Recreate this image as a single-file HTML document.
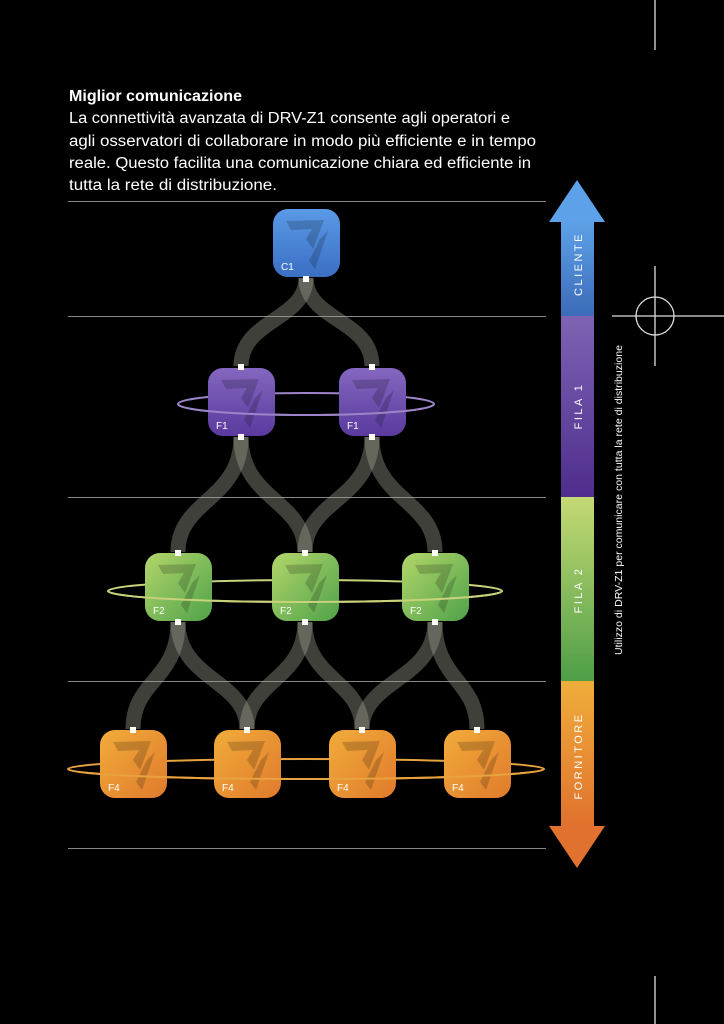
<!DOCTYPE html>
<html><head><meta charset="utf-8"><style>
html,body{margin:0;padding:0;background:#000;}
svg{display:block}
text{font-family:"Liberation Sans",sans-serif;}
</style></head><body>
<svg width="724" height="1024" viewBox="0 0 724 1024" xmlns="http://www.w3.org/2000/svg">
<defs>
<linearGradient id="gB" x1="0" y1="0" x2="0" y2="1"><stop offset="0" stop-color="#5a9ae6"/><stop offset="1" stop-color="#3b6fc4"/></linearGradient>
<linearGradient id="gP" x1="0" y1="0" x2="0" y2="1"><stop offset="0" stop-color="#8467c0"/><stop offset="1" stop-color="#5a3a9e"/></linearGradient>
<linearGradient id="gG" x1="0" y1="0" x2="1" y2="1"><stop offset="0" stop-color="#b3d66a"/><stop offset="1" stop-color="#4fa24a"/></linearGradient>
<linearGradient id="gO" x1="0" y1="0" x2="1" y2="1"><stop offset="0" stop-color="#f1ac3a"/><stop offset="1" stop-color="#e07a2c"/></linearGradient>
<linearGradient id="aB" x1="0" y1="0" x2="0" y2="1"><stop offset="0" stop-color="#5da2e8"/><stop offset="1" stop-color="#3c6ab8"/></linearGradient>
<linearGradient id="aP" x1="0" y1="0" x2="0" y2="1"><stop offset="0" stop-color="#7e63b4"/><stop offset="1" stop-color="#4e2d8c"/></linearGradient>
<linearGradient id="aG" x1="0" y1="0" x2="0" y2="1"><stop offset="0" stop-color="#c5da74"/><stop offset="1" stop-color="#4e9e48"/></linearGradient>
<linearGradient id="aO" x1="0" y1="0" x2="0" y2="1"><stop offset="0" stop-color="#efae3a"/><stop offset="1" stop-color="#e0712e"/></linearGradient>
<g id="logo"><polygon points="13,12 51,11 40,40 33,30 39,20 18,21" fill="rgba(0,0,0,0.18)"/><polygon points="47,30 55,22 42,60 36,52" fill="rgba(0,0,0,0.18)"/></g>
</defs>

<text x="69" y="101" font-size="15.5" font-weight="bold" fill="#fff" textLength="173" lengthAdjust="spacingAndGlyphs">Miglior comunicazione</text>
<g font-size="15.5" fill="#fff">
<text x="69" y="123" textLength="441" lengthAdjust="spacingAndGlyphs">La connettività avanzata di DRV-Z1 consente agli operatori e</text>
<text x="69" y="146" textLength="467" lengthAdjust="spacingAndGlyphs">agli osservatori di collaborare in modo più efficiente e in tempo</text>
<text x="69" y="168" textLength="462" lengthAdjust="spacingAndGlyphs">reale. Questo facilita una comunicazione chiara ed efficiente in</text>
<text x="69" y="190" textLength="208" lengthAdjust="spacingAndGlyphs">tutta la rete di distribuzione.</text>
</g>

<g stroke="#888" stroke-width="1">
<line x1="68" y1="201.5" x2="546" y2="201.5"/>
<line x1="68" y1="316.5" x2="546" y2="316.5"/>
<line x1="68" y1="497.5" x2="546" y2="497.5"/>
<line x1="68" y1="681.5" x2="546" y2="681.5"/>
<line x1="68" y1="848.5" x2="546" y2="848.5"/>
</g>

<g stroke="#ddd" stroke-width="1.3" fill="none">
<line x1="655" y1="0" x2="655" y2="50"/>
<line x1="655" y1="976" x2="655" y2="1024"/>
<line x1="612" y1="316" x2="724" y2="316"/>
<line x1="655" y1="266" x2="655" y2="366"/>
<circle cx="655" cy="316" r="19"/>
</g>

<polygon points="577,180 605,222 549,222" fill="#5da2e8"/>
<rect x="561" y="221" width="33" height="96" fill="url(#aB)"/>
<rect x="561" y="316" width="33" height="181" fill="url(#aP)"/>
<rect x="561" y="497" width="33" height="184" fill="url(#aG)"/>
<rect x="561" y="681" width="33" height="146" fill="url(#aO)"/>
<polygon points="549,826 605,826 577,868" fill="#e0712e"/>
<g font-size="11" fill="#fff" letter-spacing="2.5" text-anchor="middle">
<text transform="translate(582,264) rotate(-90)">CLIENTE</text>
<text transform="translate(582,406) rotate(-90)">FILA 1</text>
<text transform="translate(582,590) rotate(-90)">FILA 2</text>
<text transform="translate(582,756) rotate(-90)">FORNITORE</text>
</g>
<text transform="translate(622,500) rotate(-90)" font-size="10" fill="#fff" text-anchor="middle" textLength="310" lengthAdjust="spacingAndGlyphs">Utilizzo di DRV-Z1 per comunicare con tutta la rete di distribuzione</text>

<g fill="none" stroke-width="2">
<ellipse cx="306" cy="404" rx="128" ry="11" stroke="#9c84c8"/>
<ellipse cx="305" cy="591" rx="197" ry="11" stroke="#c8d27a"/>
<ellipse cx="306" cy="769" rx="238" ry="10" stroke="#e8a23e"/>
</g>

<g fill="none" stroke="rgba(160,160,145,0.4)" stroke-width="15">
<path d="M306,278 C306,320 241,320 241,366"/>
<path d="M306,278 C306,320 372,320 372,366"/>
<path d="M241,437 C241,500 178,500 178,552"/>
<path d="M241,437 C241,500 305,500 305,552"/>
<path d="M372,437 C372,500 305,500 305,552"/>
<path d="M372,437 C372,500 435,500 435,552"/>
<path d="M178,622 C178,680 133,680 133,729"/>
<path d="M178,622 C178,680 247,680 247,729"/>
<path d="M305,622 C305,680 247,680 247,729"/>
<path d="M305,622 C305,680 362,680 362,729"/>
<path d="M435,622 C435,680 362,680 362,729"/>
<path d="M435,622 C435,680 477,680 477,729"/>
</g>

<g>
<g transform="translate(273,209)"><rect width="67" height="68" rx="15" fill="url(#gB)"/><use href="#logo"/><text x="8" y="61" font-size="10" fill="#fff">C1</text></g>
<g transform="translate(208,368)"><rect width="67" height="68" rx="15" fill="url(#gP)"/><use href="#logo"/><text x="8" y="61" font-size="10" fill="#fff">F1</text></g>
<g transform="translate(339,368)"><rect width="67" height="68" rx="15" fill="url(#gP)"/><use href="#logo"/><text x="8" y="61" font-size="10" fill="#fff">F1</text></g>
<g transform="translate(145,553)"><rect width="67" height="68" rx="15" fill="url(#gG)"/><use href="#logo"/><text x="8" y="61" font-size="10" fill="#fff">F2</text></g>
<g transform="translate(272,553)"><rect width="67" height="68" rx="15" fill="url(#gG)"/><use href="#logo"/><text x="8" y="61" font-size="10" fill="#fff">F2</text></g>
<g transform="translate(402,553)"><rect width="67" height="68" rx="15" fill="url(#gG)"/><use href="#logo"/><text x="8" y="61" font-size="10" fill="#fff">F2</text></g>
<g transform="translate(100,730)"><rect width="67" height="68" rx="15" fill="url(#gO)"/><use href="#logo"/><text x="8" y="61" font-size="10" fill="#fff">F4</text></g>
<g transform="translate(214,730)"><rect width="67" height="68" rx="15" fill="url(#gO)"/><use href="#logo"/><text x="8" y="61" font-size="10" fill="#fff">F4</text></g>
<g transform="translate(329,730)"><rect width="67" height="68" rx="15" fill="url(#gO)"/><use href="#logo"/><text x="8" y="61" font-size="10" fill="#fff">F4</text></g>
<g transform="translate(444,730)"><rect width="67" height="68" rx="15" fill="url(#gO)"/><use href="#logo"/><text x="8" y="61" font-size="10" fill="#fff">F4</text></g>
</g>

<g fill="none" stroke-width="2">
<path d="M178,404 A128,11 0 0 0 434,404" stroke="#9c84c8"/>
<path d="M108,591 A197,11 0 0 0 502,591" stroke="#c8d27a"/>
<path d="M68,769 A238,10 0 0 0 544,769" stroke="#e8a23e"/>
</g>

<g fill="#fff">
<rect x="303" y="276" width="6" height="6"/>
<rect x="238" y="364" width="6" height="6"/><rect x="369" y="364" width="6" height="6"/>
<rect x="238" y="434" width="6" height="6"/><rect x="369" y="434" width="6" height="6"/>
<rect x="175" y="550" width="6" height="6"/><rect x="302" y="550" width="6" height="6"/><rect x="432" y="550" width="6" height="6"/>
<rect x="175" y="619" width="6" height="6"/><rect x="302" y="619" width="6" height="6"/><rect x="432" y="619" width="6" height="6"/>
<rect x="130" y="727" width="6" height="6"/><rect x="244" y="727" width="6" height="6"/><rect x="359" y="727" width="6" height="6"/><rect x="474" y="727" width="6" height="6"/>
</g>
</svg>
</body></html>
